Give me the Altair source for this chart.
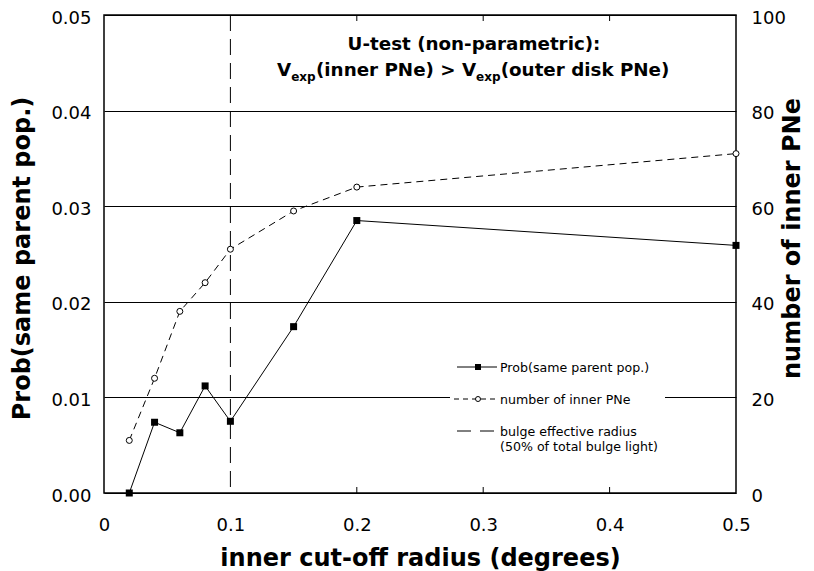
import altair as alt
import pandas as pd

# ---------------- data ----------------
radius = [0.02, 0.04, 0.06, 0.08, 0.10, 0.15, 0.20, 0.50]
prob_same_parent = [0.0, 0.0074, 0.0063, 0.0112, 0.0075, 0.0174, 0.0285, 0.0259]
n_inner_pne = [11, 24, 38, 44, 51, 59, 64, 71]
bulge_radius = [0.1]

x_ticks = [0, 0.1, 0.2, 0.3, 0.4, 0.5]
x_minor_ticks = [0.2, 0.3, 0.4]
prob_ticks = [0, 0.01, 0.02, 0.03, 0.04, 0.05]
count_ticks = [0, 20, 40, 60, 80, 100]

legend_labels = ["Prob(same parent pop.)", "number of inner PNe",
                 "bulge effective radius", "(50% of total bulge light)"]
title_line1 = "U-test (non-parametric):"
title_pieces = ["V", "exp", "(inner PNe) > V", "exp", "(outer disk PNe)"]

x_title = "inner cut-off radius (degrees)"
y_left_title = "Prob(same parent pop.)"
y_right_title = "number of inner PNe"

# ---------------- chart ----------------
W, H = 632, 478
FONT = "DejaVu Sans"

df = pd.DataFrame({"radius": radius, "prob": prob_same_parent, "count": n_inner_pne})
one = pd.DataFrame({"k": [0]})

xscale = alt.Scale(domain=[0, 0.5], nice=False, zero=True)

x_axis = alt.Axis(values=x_ticks, format="~g", labelFontSize=18, labelPadding=23,
                  ticks=False, tickSize=0, domain=False, grid=False, labelFlush=False,
                  title=x_title, titleFontSize=24, titleFontWeight="bold",
                  titleBaseline="top", titleY=53)

y_left_axis = alt.Axis(values=prob_ticks, format=".2f", labelFontSize=18, labelPadding=13,
                       labelOffset=3, ticks=False, tickSize=0, domain=False, grid=True,
                       gridColor="black", gridOpacity=1, gridWidth=1, orient="left",
                       title=y_left_title, titleFontSize=24, titleFontWeight="bold",
                       titleAngle=270, titleBaseline="top", titleAlign="center",
                       titleX=-94, titleY=243)

y_right_axis = alt.Axis(values=count_ticks, format="d", labelFontSize=18, labelPadding=15,
                        labelOffset=3, ticks=False, tickSize=0, domain=False, grid=False,
                        orient="right",
                        title=y_right_title, titleFontSize=24, titleFontWeight="bold",
                        titleAngle=270, titleBaseline="top", titleAlign="center",
                        titleX=44, titleY=223)

base = alt.Chart(df)

prob_line = base.mark_line(color="black", strokeWidth=1).encode(
    x=alt.X("radius:Q", scale=xscale, axis=x_axis),
    y=alt.Y("prob:Q", scale=alt.Scale(domain=[0, 0.05], nice=False), axis=y_left_axis),
)
prob_pts = base.mark_square(size=49, color="black", opacity=1).encode(
    x=alt.X("radius:Q", scale=xscale), y=alt.Y("prob:Q"))

bulge = alt.Chart(pd.DataFrame({"radius": bulge_radius})).mark_rule(
    color="black", strokeWidth=1, strokeDash=[16, 8]).encode(x=alt.X("radius:Q", scale=xscale))

minor_df = pd.DataFrame({"radius": x_minor_ticks})
ticks_bottom = alt.Chart(minor_df).mark_rule(color="black", strokeWidth=1).encode(
    x=alt.X("radius:Q", scale=xscale), y=alt.value(H), y2=alt.value(H - 6))
ticks_top = alt.Chart(minor_df).mark_rule(color="black", strokeWidth=1).encode(
    x=alt.X("radius:Q", scale=xscale), y=alt.value(0), y2=alt.value(6))

# ---- manual legend (white box interrupts the gridline) ----
lx0, lx1, lxm, ltx = 353, 393, 374, 396
legend_box = alt.Chart(one).mark_rect(color="white").encode(
    x=alt.value(346), x2=alt.value(561), y=alt.value(340), y2=alt.value(447))
leg1_line = alt.Chart(one).mark_rule(color="black", strokeWidth=1).encode(
    x=alt.value(lx0), x2=alt.value(lx1), y=alt.value(352))
leg1_pt = alt.Chart(one).mark_square(size=36, color="black", opacity=1).encode(
    x=alt.value(lxm), y=alt.value(352))
leg2_line = alt.Chart(one).mark_rule(color="black", strokeWidth=1, strokeDash=[5, 4]).encode(
    x=alt.value(lx0 - 3), x2=alt.value(lx1), y=alt.value(384))
leg2_pt = alt.Chart(one).mark_point(shape="circle", size=25, filled=True, fill="white",
                                    stroke="black", strokeWidth=1, opacity=1).encode(
    x=alt.value(lxm), y=alt.value(384))
leg3_line = alt.Chart(one).mark_rule(color="black", strokeWidth=1, strokeDash=[14, 9]).encode(
    x=alt.value(lx0), x2=alt.value(lx1), y=alt.value(416))

def leg_text(label, y):
    return alt.Chart(one).mark_text(align="left", baseline="middle", fontSize=12.6,
                                    font=FONT, color="black").encode(
        x=alt.value(ltx), y=alt.value(y), text=alt.value(label))

legend_layers = [legend_box, leg1_line, leg1_pt, leg2_line, leg2_pt, leg3_line,
                 leg_text(legend_labels[0], 353), leg_text(legend_labels[1], 385),
                 leg_text(legend_labels[2], 417), leg_text(legend_labels[3], 432)]

# ---- in-plot title with subscripts ----
def t(label, x, y, size, align="left"):
    return alt.Chart(one).mark_text(align=align, baseline="alphabetic", fontSize=size,
                                    fontWeight="bold", font=FONT, color="black").encode(
        x=alt.value(x), y=alt.value(y), text=alt.value(label))

MAIN, SUB = 18.3, 12
y2, ysub = 60.5, 65.5
title_layers = [
    t(title_line1, 370, 35, MAIN, align="center"),
    t(title_pieces[0], 173, y2, MAIN),
    t(title_pieces[1], 187.2, ysub, SUB),
    t(title_pieces[2], 212, y2, MAIN),
    t(title_pieces[3], 372, ysub, SUB),
    t(title_pieces[4], 396.7, y2, MAIN),
]

left = alt.layer(bulge, ticks_bottom, ticks_top, prob_line, prob_pts,
                 *legend_layers, *title_layers)

count_line = base.mark_line(color="black", strokeWidth=1, strokeDash=[7, 5]).encode(
    x=alt.X("radius:Q", scale=xscale),
    y=alt.Y("count:Q", scale=alt.Scale(domain=[0, 100], nice=False), axis=y_right_axis),
)
count_pts = base.mark_point(shape="circle", size=36, filled=True, fill="white",
                            stroke="black", strokeWidth=1, opacity=1).encode(
    x=alt.X("radius:Q", scale=xscale), y=alt.Y("count:Q"))

right = alt.layer(count_line, count_pts)

chart = alt.layer(left, right).resolve_scale(y="independent").properties(
    width=W, height=H,
    autosize=alt.AutoSizeParams(type="none"),
    padding={"left": 96, "top": 7, "right": 70, "bottom": 78},
).configure(font=FONT).configure_axis(
    labelFont=FONT, titleFont=FONT, labelColor="black", titleColor="black"
).configure_view(stroke="black", strokeWidth=1.5)

chart.save("out.html", embed_options={"renderer": "svg", "actions": False})
